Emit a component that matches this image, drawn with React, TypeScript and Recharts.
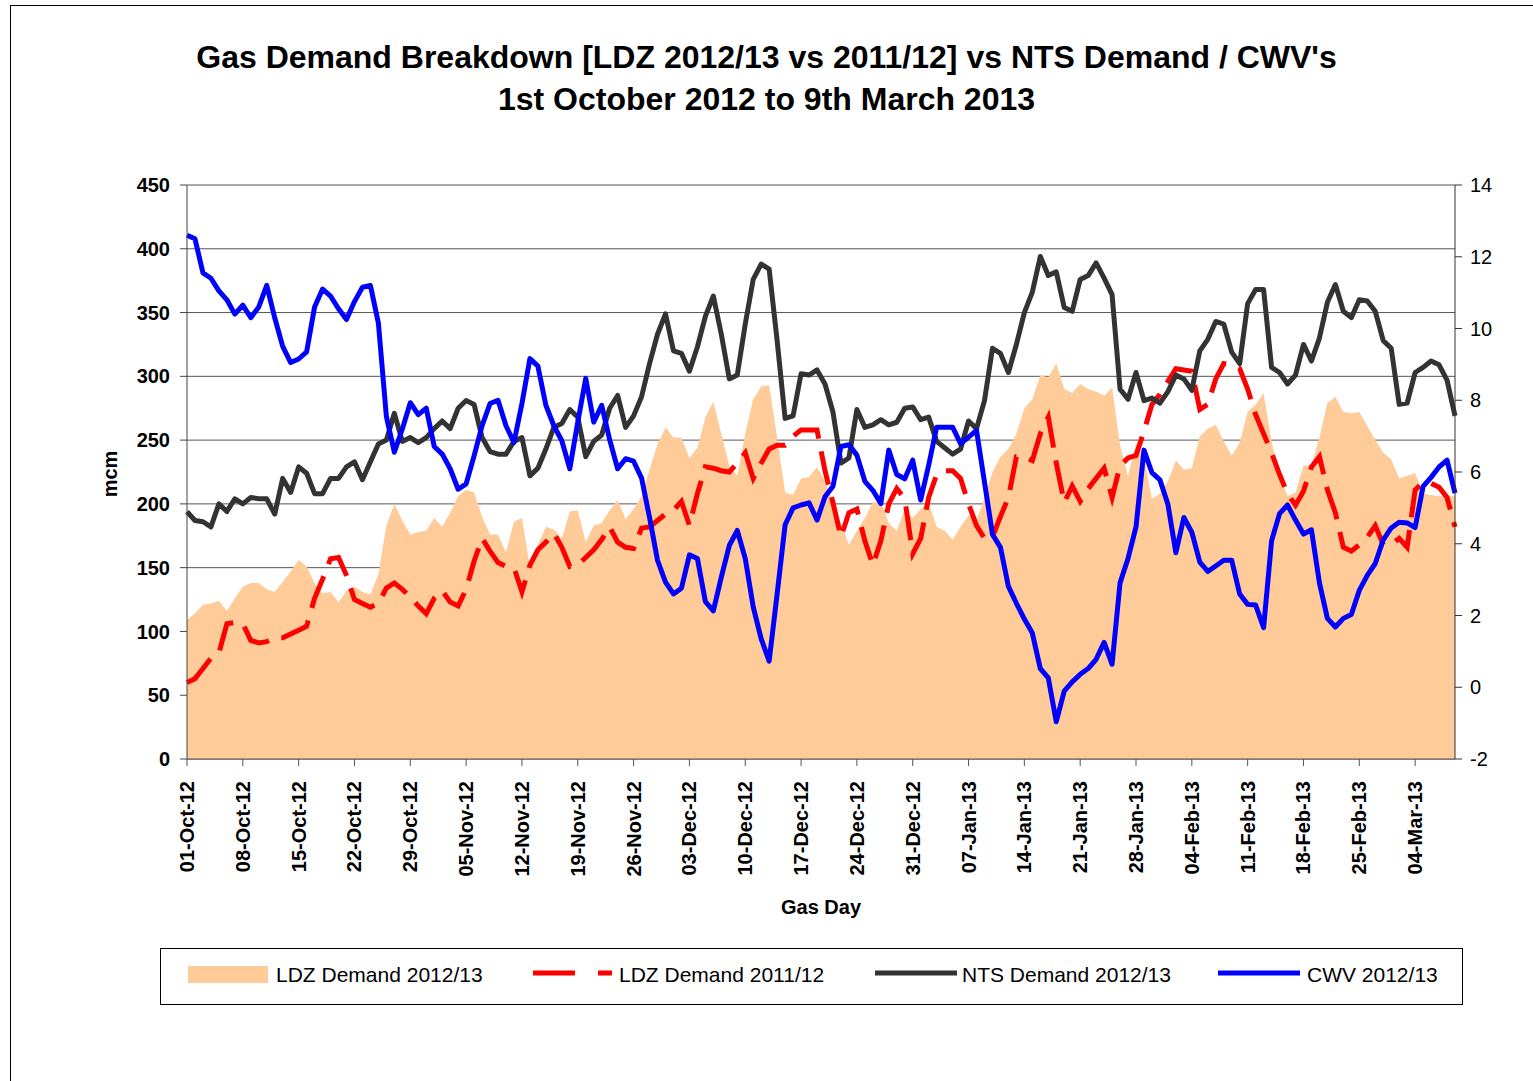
import React from 'react';
import { ComposedChart, XAxis, YAxis, CartesianGrid, Area, Line } from 'recharts';

// daily values, 01-Oct-12 .. 09-Mar-13 (160 gas days)
const LDZ_2012_13 = [
  109, 114, 121, 122, 124, 116, 126, 135, 138, 138, 133, 131, 139, 147, 156, 151, 138, 130, 131, 123,
  132, 135, 131, 129, 145, 183, 200, 187, 176, 178, 179, 189, 182, 193, 206, 211, 209, 190, 176, 176,
  162, 186, 189, 151, 168, 182, 180, 173, 194, 195, 170, 183, 185, 195, 203, 188, 196, 206, 227, 247,
  260, 252, 252, 236, 244, 268, 280, 255, 230, 222, 255, 282, 292, 293, 252, 209, 207, 220, 221, 229,
  218, 199, 185, 168, 179, 189, 201, 202, 185, 179, 196, 189, 196, 201, 182, 179, 172, 182, 191, 187,
  205, 225, 237, 243, 255, 275, 282, 301, 299, 310, 290, 287, 294, 290, 288, 285, 291, 246, 222, 247,
  236, 204, 208, 218, 234, 227, 228, 253, 259, 262, 249, 238, 248, 272, 278, 287, 249, 222, 206, 209,
  230, 230, 252, 279, 284, 272, 271, 272, 261, 250, 240, 235, 220, 222, 224, 208, 207, 206, 206, 206,
];

const LDZ_2011_12 = [
  60, 63, 71, 79, 83, 106, 107, 106, 93, 91, 92, 95, 95, 98, 101, 104, 126, 141, 157, 158,
  144, 125, 122, 119, 122, 134, 138, 133, 127, 120, 114, 126, 132, 123, 120, 133, 155, 173, 163, 154,
  151, 150, 131, 152, 164, 170, 177, 166, 151, 152, 158, 164, 172, 182, 170, 166, 165, 181, 182, 187,
  192, 195, 202, 183, 208, 229, 228, 226, 225, 232, 240, 220, 232, 243, 246, 246, 253, 258, 258, 258,
  226, 201, 174, 193, 196, 171, 152, 171, 200, 212, 204, 161, 173, 205, 223, 226, 226, 220, 200, 183,
  173, 174, 190, 205, 237, 237, 234, 255, 268, 232, 201, 214, 202, 212, 220, 228, 205, 230, 236, 238,
  257, 278, 286, 296, 306, 305, 304, 274, 278, 298, 310, 309, 306, 290, 270, 255, 240, 223, 208, 199,
  210, 229, 237, 211, 193, 166, 163, 168, 174, 183, 168, 168, 173, 166, 211, 217, 216, 213, 205, 182,
];

const NTS_2012_13 = [
  194, 187, 186, 182, 200, 194, 204, 200, 205, 204, 204, 192, 220, 209, 229, 224, 208, 208, 220, 220,
  229, 233, 219, 233, 247, 250, 271, 249, 252, 248, 252, 259, 265, 259, 275, 281, 278, 252, 241, 239,
  239, 249, 252, 222, 228, 243, 260, 263, 274, 268, 237, 249, 254, 275, 285, 260, 269, 284, 310, 333,
  349, 320, 318, 304, 323, 347, 363, 333, 298, 301, 341, 376, 388, 384, 328, 267, 269, 302, 301, 305,
  294, 272, 232, 236, 274, 260, 262, 266, 262, 264, 275, 276, 266, 268, 249, 244, 239, 243, 265, 259,
  281, 322, 318, 303, 325, 350, 366, 394, 379, 382, 354, 351, 376, 379, 389, 377, 364, 290, 282, 303,
  281, 283, 279, 288, 301, 298, 289, 320, 329, 343, 341, 319, 310, 357, 368, 368, 307, 303, 294, 301,
  325, 312, 330, 358, 372, 351, 346, 360, 359, 351, 328, 322, 278, 279, 303, 307, 312, 309, 297, 269,
];

const CWV_2012_13 = [
  12.6, 12.5, 11.55, 11.4, 11.05, 10.8, 10.4, 10.65, 10.3, 10.6, 11.2, 10.3, 9.5, 9.05, 9.15, 9.35, 10.6, 11.1, 10.9, 10.55,
  10.25, 10.75, 11.15, 11.2, 10.15, 7.55, 6.55, 7.2, 7.93, 7.6, 7.78, 6.71, 6.5, 6.09, 5.52, 5.67, 6.45, 7.29, 7.91, 8.0,
  7.29, 6.82, 7.91, 9.16, 8.95, 7.86, 7.29, 6.87, 6.09, 7.39, 8.61, 7.39, 7.86, 6.9, 6.09, 6.37, 6.3, 5.83, 4.73, 3.54,
  2.93, 2.6, 2.76, 3.69, 3.59, 2.39, 2.13, 3.07, 3.95, 4.37, 3.59, 2.24, 1.35, 0.73, 2.6, 4.53, 5.0, 5.08, 5.14, 4.66,
  5.31, 5.6, 6.71, 6.76, 6.47, 5.74, 5.49, 5.12, 6.61, 5.93, 5.81, 6.33, 5.22, 6.19, 7.25, 7.25, 7.25, 6.79, 6.97, 7.16,
  5.72, 4.26, 3.9, 2.81, 2.34, 1.9, 1.51, 0.52, 0.26, -0.96, -0.11, 0.15, 0.36, 0.52, 0.78, 1.25, 0.64, 2.91, 3.59, 4.47,
  6.61, 5.98, 5.78, 5.1, 3.75, 4.73, 4.32, 3.49, 3.23, 3.38, 3.54, 3.54, 2.6, 2.31, 2.29, 1.66, 4.08, 4.84, 5.08, 4.66,
  4.27, 4.39, 2.91, 1.92, 1.68, 1.92, 2.03, 2.7, 3.12, 3.45, 4.11, 4.44, 4.6, 4.58, 4.45, 5.6, 5.85, 6.14, 6.33, 5.41,
];

const LEFT_TICKS = [0, 50, 100, 150, 200, 250, 300, 350, 400, 450];
const RIGHT_TICKS = [-2, 0, 2, 4, 6, 8, 10, 12, 14];
const MONTHS = ['Jan', 'Feb', 'Mar', 'Apr', 'May', 'Jun', 'Jul', 'Aug', 'Sep', 'Oct', 'Nov', 'Dec'];

// gas day labels like 01-Oct-12
const gasDays = LDZ_2012_13.map((_, i) => {
  const d = new Date(Date.UTC(2012, 9, 1 + i));
  const dd = String(d.getUTCDate()).padStart(2, '0');
  const yy = String(d.getUTCFullYear()).slice(2);
  return `${dd}-${MONTHS[d.getUTCMonth()]}-${yy}`;
});

const data = gasDays.map((day, i) => ({
  day,
  ldz1213: LDZ_2012_13[i],
  ldz1112: LDZ_2011_12[i],
  nts: NTS_2012_13[i],
  cwv: CWV_2012_13[i],
}));

const FONT = '"Liberation Sans", Arial, Helvetica, sans-serif';
const PEACH = '#FFCC99';

const DayTick = (props: any) => {
  const { x, y, payload } = props;
  return (
    <text
      transform={`translate(${x},${y}) rotate(-90)`}
      textAnchor="end"
      dominantBaseline="central"
      fontFamily={FONT}
      fontWeight="bold"
      fontSize={20}
      fill="#000"
    >
      {payload.value}
    </text>
  );
};

const legendText: React.CSSProperties = {
  position: 'absolute',
  top: 961,
  fontSize: 21,
  lineHeight: '28px',
  color: '#000',
  whiteSpace: 'nowrap',
};

const App = () => {
  return (
    <div style={{ position: 'absolute', left: 0, top: 0, width: 1533, height: 1081, background: '#fff', fontFamily: FONT, overflow: 'hidden' }}>
      {/* outer frame */}
      <div style={{ position: 'absolute', left: 10, top: 5, width: 1600, height: 1200, borderTop: '1px solid #000', borderLeft: '1px solid #000' }} />

      <div style={{ position: 'absolute', left: 0, top: 36, width: 1533, textAlign: 'center', fontWeight: 'bold', fontSize: 32, lineHeight: '42px', color: '#000' }}>
        <div>Gas Demand Breakdown [LDZ 2012/13 vs 2011/12] vs NTS Demand / CWV's</div>
        <div>1st October 2012 to 9th March 2013</div>
      </div>

      <div style={{ position: 'absolute', left: 0, top: 0 }}>
        <ComposedChart width={1533} height={1081} data={data} margin={{ top: 185, left: 117, right: 8, bottom: 182 }}>
          <CartesianGrid yAxisId="left" vertical={false} stroke="#555" strokeWidth={1} />
          <XAxis
            dataKey="day"
            scale="point"
            padding={{ left: 0, right: 0 }}
            interval={6}
            height={140}
            tick={<DayTick />}
            tickSize={7}
            tickMargin={15}
            stroke="#555"
          />
          <YAxis
            yAxisId="left"
            orientation="left"
            width={70}
            domain={[0, 450]}
            ticks={LEFT_TICKS}
            interval={0}
            tickSize={7}
            tickMargin={10}
            stroke="#444"
            tick={{ fontFamily: FONT, fontWeight: 'bold', fontSize: 20, fill: '#000' }}
          />
          <YAxis
            yAxisId="right"
            orientation="right"
            width={70}
            domain={[-2, 14]}
            ticks={RIGHT_TICKS}
            interval={0}
            tickSize={7}
            tickMargin={8}
            stroke="#333"
            tick={{ fontFamily: FONT, fontSize: 20, fill: '#000' }}
          />
          <Area yAxisId="left" dataKey="ldz1213" type="linear" fill={PEACH} fillOpacity={1} stroke="none" isAnimationActive={false} activeDot={false} />
          <Line yAxisId="left" dataKey="ldz1112" type="linear" stroke="#FF0000" strokeWidth={5} strokeDasharray="34 13" dot={false} activeDot={false} isAnimationActive={false} />
          <Line yAxisId="left" dataKey="nts" type="linear" stroke="#333333" strokeWidth={5} strokeLinejoin="round" dot={false} activeDot={false} isAnimationActive={false} />
          <Line yAxisId="right" dataKey="cwv" type="linear" stroke="#0000FF" strokeWidth={5} strokeLinejoin="round" dot={false} activeDot={false} isAnimationActive={false} />
        </ComposedChart>
      </div>

      {/* axis titles */}
      <div style={{ position: 'absolute', left: 110, top: 474, transform: 'translate(-50%, -50%) rotate(-90deg)', fontWeight: 'bold', fontSize: 20, whiteSpace: 'nowrap' }}>mcm</div>
      <div style={{ position: 'absolute', left: 821, top: 907, transform: 'translate(-50%, -50%)', fontWeight: 'bold', fontSize: 20, whiteSpace: 'nowrap' }}>Gas Day</div>

      {/* legend */}
      <div style={{ position: 'absolute', left: 160, top: 948, width: 1301, height: 55, border: '1px solid #000' }} />
      <div style={{ position: 'absolute', left: 188, top: 966, width: 80, height: 17, background: PEACH }} />
      <div style={{ ...legendText, left: 276 }}>LDZ Demand 2012/13</div>
      <svg style={{ position: 'absolute', left: 530, top: 966 }} width={90} height={14}>
        <line x1={3} y1={7} x2={82} y2={7} stroke="#FF0000" strokeWidth={5} strokeDasharray="42 23" />
      </svg>
      <div style={{ ...legendText, left: 619 }}>LDZ Demand 2011/12</div>
      <svg style={{ position: 'absolute', left: 872, top: 966 }} width={90} height={14}>
        <line x1={3} y1={7} x2={85} y2={7} stroke="#333333" strokeWidth={5} />
      </svg>
      <div style={{ ...legendText, left: 962 }}>NTS Demand 2012/13</div>
      <svg style={{ position: 'absolute', left: 1215, top: 966 }} width={90} height={14}>
        <line x1={3} y1={7} x2={85} y2={7} stroke="#0000FF" strokeWidth={5} />
      </svg>
      <div style={{ ...legendText, left: 1307 }}>CWV 2012/13</div>
    </div>
  );
};

export default App;
